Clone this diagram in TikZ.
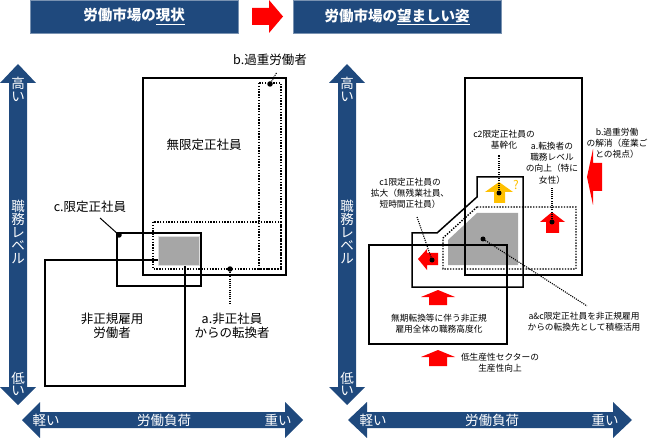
\documentclass[tikz,border=0pt]{standalone}
\usepackage{fontspec}
\newfontfamily\jp{Noto Sans CJK JP}
\usetikzlibrary{positioning}
\definecolor{navy}{RGB}{31,73,125}
\definecolor{amber}{RGB}{255,192,0}
\definecolor{midgrey}{RGB}{166,166,166}

\begin{document}
\begin{tikzpicture}[x=1pt, y=-1pt,
    hdr/.style={fill=navy, draw=navy!60!white, line width=0.6pt, minimum width=208pt,
                minimum height=33pt, inner sep=0pt, text=white,
                font=\jp\bfseries\fontsize{14.5}{16}\selectfont},
    lbl/.style={font=\jp\fontsize{12.5}{13.5}\selectfont, align=center, inner sep=0pt},
    note/.style={font=\jp\fontsize{8.7}{11.2}\selectfont, align=center, inner sep=0pt},
    axtxt/.style={font=\jp\fontsize{13.5}{12.8}\selectfont, text=white, align=center, inner sep=0pt},
    dot/.style={circle, fill=black, minimum size=5.5pt, inner sep=0pt},
    box/.style={draw=black, line width=1.5pt, line join=miter},
    dotbox/.style={draw=black, line width=1.4pt, dash pattern=on 1.4pt off 1.4pt},
    leader/.style={draw=black, line width=1.1pt, dash pattern=on 1.1pt off 1.1pt},
]
\useasboundingbox (0,0) rectangle (650,438);

% Headers
\node[hdr] (nowHdr) at (134,16.5) {労働市場の\underline{現状}};
\node[hdr] (goalHdr) at (397,16.5) {労働市場の\underline{望ましい姿}};
\fill[red] (252,8) -- (269,8) -- (269,0) -- (283,16.5) -- (269,33) -- (269,25) -- (252,25) -- cycle;

% --- Left panel: axes ---
\fill[navy] (18,64) -- (36,83) -- (27,83) -- (27,387) -- (36,387) -- (18,405)
    -- (0,387) -- (9,387) -- (9,83) -- (0,83) -- cycle;
\fill[navy] (22,420) -- (40,402) -- (40,412) -- (285,412) -- (285,402) -- (303,420)
    -- (285,438) -- (285,428) -- (40,428) -- (40,438) -- cycle;
\node[axtxt] (hiL) at (18,89) {高\\い};
\node[axtxt] (lvlL) at (18,232) {職\\務\\レ\\ベ\\ル};
\node[axtxt] (loL) at (18,384) {低\\い};
\node[axtxt] (lightL) at (46,420) {軽い};
\node[axtxt] (loadL) at (164,420) {労働負荷};
\node[axtxt] (heavyL) at (278,420) {重い};

% --- Left panel: groups ---
\draw[box] (143,78) rectangle (286,275);
\draw[dotbox] (259,83) rectangle (281,269);
\draw[dotbox] (153,222) rectangle (281,269);
\draw[box] (117,233) rectangle (201,286);
\draw[box] (45,260) rectangle (185,386);
\fill[midgrey] (158,236) rectangle (199,265);
\draw[gray!25, line width=0.8pt] (158,236) rectangle (199,265);

\node[lbl] (permL) at (204,145) {無限定正社員};
\node[lbl] (nonregL) at (112,326) {非正規雇用\\労働者};

\node[dot] (dotB) at (270,84) {};
\coordinate (endB) at (277,72);
\node[lbl] (overL) at (270,60) {b.過重労働者};
\draw[leader] (dotB) -- (endB);

\node[dot] (dotC) at (119,235) {};
\coordinate (endC) at (100,218);
\node[lbl] (limL) at (90,207) {c.限定正社員};
\draw[line width=1pt] (dotC) -- (endC);

\node[dot] (dotA) at (230,269) {};
\coordinate (endA) at (230,303);
\node[lbl] (convL) at (232,326) {a.非正社員\\からの転換者};
\draw[leader] (dotA) -- (endA);

% --- Right panel: axes ---
\fill[navy] (347,64) -- (365,83) -- (356,83) -- (356,387) -- (365,387) -- (347,405)
    -- (329,387) -- (338,387) -- (338,83) -- (329,83) -- cycle;
\fill[navy] (348,420) -- (367,402) -- (367,412) -- (613,412) -- (613,402) -- (632,420)
    -- (613,438) -- (613,428) -- (367,428) -- (367,438) -- cycle;
\node[axtxt] (hiR) at (347,89) {高\\い};
\node[axtxt] (lvlR) at (347,232) {職\\務\\レ\\ベ\\ル};
\node[axtxt] (loR) at (347,384) {低\\い};
\node[axtxt] (lightR) at (373,420) {軽い};
\node[axtxt] (loadR) at (492,420) {労働負荷};
\node[axtxt] (heavyR) at (605,420) {重い};

% --- Right panel: groups ---
\fill[midgrey] (477,213) -- (518,213) -- (518,265) -- (448,265) -- (448,240) -- cycle;
\draw[box] (465,78) rectangle (582,275);
\draw[dotbox] (477,207) -- (576,207) -- (576,269) -- (443,269) -- (443,238) -- cycle;
\draw[box] (477,177) -- (523,177) -- (523,287) -- (412,287) -- (412,233) -- (437,233)
    -- (477,197) -- cycle;
\draw[box] (369,245) rectangle (507,344);

% red / amber moves
\fill[red] (418,259) -- (427,249) -- (427,253) -- (438,253) -- (438,265) -- (427,265)
    -- (427,270) -- cycle;
\fill[red] (552,212) -- (565,222) -- (559,222) -- (559,233) -- (546,233) -- (546,222)
    -- (540,222) -- cycle;
\fill[amber] (499,182) -- (513,192) -- (505,192) -- (505,203) -- (494,203) -- (494,192)
    -- (485,192) -- cycle;
\fill[red] (587,177) -- (593,149) -- (593,163) -- (602,163) -- (602,191) -- (593,191)
    -- (593,205) -- cycle;
\fill[red] (438,290) -- (455,297) -- (447,297) -- (447,305) -- (429,305) -- (429,297)
    -- (421,297) -- cycle;
\fill[red] (438,350) -- (455,357) -- (447,357) -- (447,366) -- (429,366) -- (429,357)
    -- (421,357) -- cycle;
\node[font=\jp\fontsize{12}{13}\selectfont, text=amber, inner sep=0pt] (ask) at (516,185) {?};

% labels and leaders
\node[note] (c2L) at (504,140) {c2限定正社員の\\基幹化};
\node[dot, minimum size=5pt] (dotC2) at (499,193) {};
\coordinate (endC2) at (499,155);
\draw[leader] (dotC2) -- (endC2);

\node[note] (aR) at (552,163) {a.転換者の\\職務レベル\\の向上（特に\\女性）};
\node[dot, minimum size=5pt] (dotAR) at (552,222) {};
\coordinate (endAR) at (552,188);
\draw[leader] (dotAR) -- (endAR);

\node[note] (bR) at (617,143) {b.過重労働\\の解消（産業ご\\との視点）};

\node[note] (c1L) at (410,193) {c1限定正社員の\\拡大（無残業社員、\\短時間正社員）};
\node[dot, minimum size=5pt] (dotC1) at (432,260) {};
\coordinate (endC1) at (417,217);
\draw[leader] (dotC1) -- (endC1);

\node[dot, minimum size=5pt] (dotAC) at (483,239) {};
\coordinate (endAC) at (587,306);
\draw[leader] (dotAC) -- (endAC);
\node[note] (acL) at (584,322) {a\&c限定正社員を非正規雇用\\からの転換先として積極活用};

\node[note] (mukiL) at (439,324) {無期転換等に伴う非正規\\雇用全体の職務高度化};
\node[note] (lowL) at (500,363) {低生産性セクターの\\生産性向上};
\end{tikzpicture}
\end{document}
